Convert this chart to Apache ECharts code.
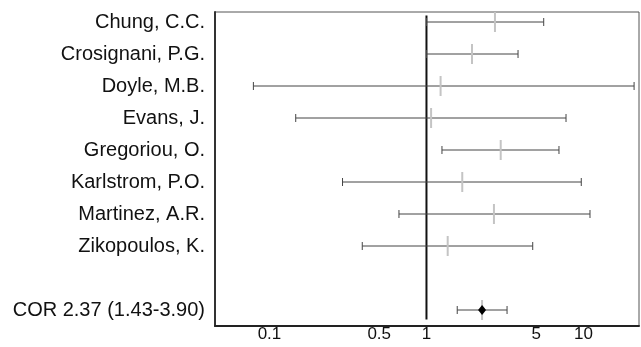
<!DOCTYPE html>
<html>
<head>
<meta charset="utf-8">
<title>Forest plot</title>
<script src="https://cdn.jsdelivr.net/npm/echarts@6/dist/echarts.min.js"></script>
<style>
  html, body { margin: 0; padding: 0; background: #fff; }
  #chart { width: 641px; height: 347px; }
</style>
</head>
<body>
<div id="chart"></div>
<script>
// studies, top to bottom
const studies = ['Chung, C.C.', 'Crosignani, P.G.', 'Doyle, M.B.', 'Evans, J.',
  'Gregoriou, O.', 'Karlstrom, P.O.', 'Martinez, A.R.', 'Zikopoulos, K.']
const lower = [1.0, 1.0, 0.079, 0.147, 1.255, 0.292, 0.668, 0.39]
const point = [2.73, 1.95, 1.23, 1.07, 2.97, 1.69, 2.69, 1.365]
const upper = [5.58, 3.83, 21.0, 7.74, 6.98, 9.68, 11.0, 4.75]

// pooled estimate
const pooledLabel = 'COR 2.37 (1.43-3.90)'
const pooledLower = 1.57
const pooledPoint = 2.26
const pooledUpper = 3.26

const tickValues = [0.1, 0.5, 1, 5, 10]

// one empty row between the studies and the pooled line
const rowNames = studies.concat(['', pooledLabel])
const pooledRow = rowNames.length - 1

let chart = echarts.init(document.getElementById('chart'))

let studyData = studies.map((name, i) => [lower[i], upper[i], point[i], i])
let pooledData = [[pooledLower, pooledUpper, pooledPoint, pooledRow]]

function drawBar(params, api, pooled) {
  let y = api.value(3)
  let lo = api.coord([api.value(0), y])
  let hi = api.coord([api.value(1), y])
  let pt = api.coord([api.value(2), y])
  let line = { stroke: '#444', lineWidth: 1 }
  let children = [
    { type: 'line', shape: { x1: lo[0], y1: lo[1], x2: hi[0], y2: hi[1] }, style: line },
    { type: 'line', shape: { x1: lo[0], y1: lo[1] - 4, x2: lo[0], y2: lo[1] + 4 }, style: line },
    { type: 'line', shape: { x1: hi[0], y1: hi[1] - 4, x2: hi[0], y2: hi[1] + 4 }, style: line },
    { type: 'line', shape: { x1: pt[0], y1: pt[1] - 10, x2: pt[0], y2: pt[1] + 10 },
      style: { stroke: '#c4c4c4', lineWidth: 2 } }
  ]
  if (pooled) {
    children.push({
      type: 'polygon',
      shape: { points: [[pt[0], pt[1] - 5], [pt[0] + 4, pt[1]], [pt[0], pt[1] + 5], [pt[0] - 4, pt[1]]] },
      style: { fill: '#000' }
    })
  }
  return { type: 'group', children: children }
}

chart.setOption({
  animation: false,
  backgroundColor: '#fff',
  textStyle: { fontFamily: 'Liberation Sans, Arial, sans-serif' },
  grid: {
    left: 215,
    right: 2,
    top: 12,
    bottom: 21,
    show: true,
    borderColor: '#555',
    borderWidth: 1
  },
  xAxis: {
    type: 'log',
    min: 0.045,
    max: 22.57,
    axisLine: { show: true, onZero: false, lineStyle: { color: '#222', width: 2 } },
    axisTick: { show: false },
    splitLine: { show: false },
    minorTick: { show: false },
    axisLabel: {
      customValues: tickValues,
      formatter: v => String(v),
      color: '#111',
      fontSize: 17,
      margin: 0
    }
  },
  yAxis: {
    type: 'value',
    inverse: true,
    min: -0.3125,
    max: 9.5,
    axisLine: { show: true, onZero: false, lineStyle: { color: '#333', width: 2 } },
    axisTick: { show: false },
    splitLine: { show: false },
    axisLabel: {
      customValues: rowNames.map((n, i) => i).filter(i => rowNames[i] !== ''),
      formatter: v => rowNames[Math.round(v)],
      color: '#111',
      fontSize: 20,
      margin: 10,
      padding: [5, 0, 0, 0]
    }
  },
  series: [
    {
      type: 'line',
      data: [[1, -0.2], [1, 9.3]],
      symbol: 'none',
      lineStyle: { color: '#111', width: 2 },
      z: 1
    },
    {
      type: 'custom',
      data: studyData,
      renderItem: (params, api) => drawBar(params, api, false),
      z: 2
    },
    {
      type: 'custom',
      data: pooledData,
      renderItem: (params, api) => drawBar(params, api, true),
      z: 2
    }
  ]
})
</script>
</body>
</html>
